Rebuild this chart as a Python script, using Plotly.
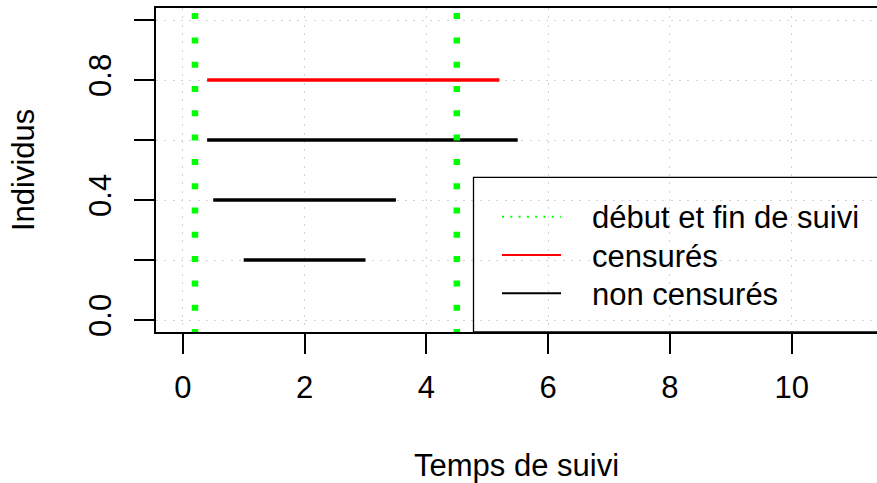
import plotly.graph_objects as go

# Suivi des individus : début, fin et statut de censure
individus = [0.2, 0.4, 0.6, 0.8]
debut = [1.0, 0.5, 0.4, 0.4]
fin = [3.0, 3.5, 5.5, 5.2]
censure = [False, False, False, True]

# Bornes de la période de suivi
bornes_suivi = [0.2, 4.5]

# Axes
x_range = [-0.44, 11.4]
y_range = [-0.04, 1.04]
x_ticks = [0, 2, 4, 6, 8, 10]
x_ticklabels = ["0", "2", "4", "6", "8", "10"]
y_ticks = [0.0, 0.2, 0.4, 0.6, 0.8, 1.0]
y_ticklabels = ["0.0", "", "0.4", "", "0.8", ""]

legend_labels = ["début et fin de suivi", "censurés", "non censurés"]

FONT = "Liberation Sans, Arial, Helvetica, sans-serif"
W, H = 877, 483
L, R, T, B = 156, 0, 8, 151
PW, PH = W - L - R, H - T - B


def px_x(p):
    return (p - L) / PW


def px_y(p):
    return (H - B - p) / PH


def segments(selection):
    xs, ys = [], []
    for y, d, f, c in zip(individus, debut, fin, censure):
        if c == selection:
            xs += [d, f, None]
            ys += [y, y, None]
    return xs, ys


fig = go.Figure()

xs, ys = segments(False)
fig.add_trace(go.Scatter(x=xs, y=ys, mode="lines",
                         line=dict(color="black", width=3.5),
                         name=legend_labels[2], showlegend=False))
xs, ys = segments(True)
fig.add_trace(go.Scatter(x=xs, y=ys, mode="lines",
                         line=dict(color="#FF0000", width=3.5),
                         name=legend_labels[1], showlegend=False))

for b in bornes_suivi:
    fig.add_trace(go.Scatter(x=[b, b], y=[y_range[0] - 0.01, y_range[1] + 0.01],
                             mode="lines",
                             line=dict(color="#00FF00", width=6.5, dash="6px,18.3px"),
                             name=legend_labels[0], showlegend=False))

# Légende encadrée (fond transparent)
shapes = [dict(type="rect", xref="paper", yref="paper",
               x0=px_x(473.5), x1=1.1, y0=0, y1=px_y(177.3),
               line=dict(color="black", width=1.3), fillcolor="rgba(0,0,0,0)")]
rows = [216.7, 255.0, 293.3]
styles = [dict(color="#00FF00", width=2, dash="2px,6.3px"),
          dict(color="#FF0000", width=2),
          dict(color="black", width=2)]
annotations = []
for row, st, lab in zip(rows, styles, legend_labels):
    shapes.append(dict(type="line", xref="paper", yref="paper",
                       x0=px_x(502), x1=px_x(561), y0=px_y(row), y1=px_y(row),
                       line=st))
    annotations.append(dict(text=lab, xref="paper", yref="paper",
                            x=px_x(590), y=px_y(row + 1), xanchor="left",
                            yanchor="middle", showarrow=False,
                            font=dict(family=FONT, size=31, color="black")))

# Titres des axes
annotations.append(dict(text="Temps de suivi", xref="paper", yref="paper",
                        x=0.5, y=px_y(465), xanchor="center", yanchor="middle",
                        showarrow=False,
                        font=dict(family=FONT, size=31, color="black")))
annotations.append(dict(text="Individus", xref="paper", yref="paper",
                        x=px_x(23), y=0.5, xanchor="center", yanchor="middle",
                        textangle=-90, showarrow=False,
                        font=dict(family=FONT, size=31, color="black")))

grid = dict(showgrid=True, gridcolor="#D3D3D3", gridwidth=1, griddash="2px,6.3px")

fig.update_layout(
    width=W, height=H,
    margin=dict(l=L, r=R, t=T, b=B, pad=0),
    paper_bgcolor="white", plot_bgcolor="white",
    font=dict(family=FONT, size=31, color="black"),
    showlegend=False,
    shapes=shapes,
    annotations=annotations,
    xaxis=dict(range=x_range, tickmode="array", tickvals=x_ticks,
               ticktext=x_ticklabels, ticks="outside", ticklen=20,
               tickwidth=1.5, tickcolor="black", showline=True,
               linecolor="black", linewidth=1.5, mirror=True,
               zeroline=False, ticklabelstandoff=7, **grid),
    yaxis=dict(range=y_range, tickmode="array", tickvals=y_ticks,
               ticktext=y_ticklabels, ticks="outside", ticklen=20,
               tickwidth=1.5, tickcolor="black", showline=True,
               linecolor="black", linewidth=1.5, tickangle=-90,
               zeroline=False, ticklabelstandoff=11, **grid),
)

fig.write_html("out.html")
